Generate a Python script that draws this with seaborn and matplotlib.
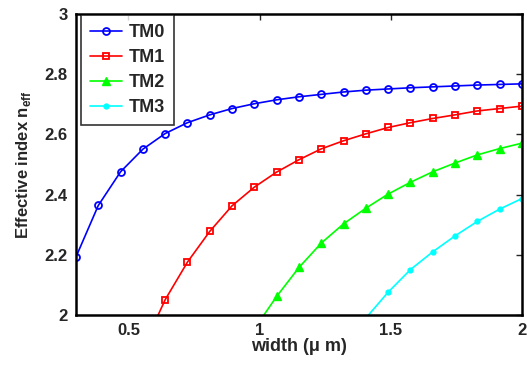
import numpy as np
import pandas as pd
import matplotlib
matplotlib.use('Agg')
import matplotlib.pyplot as plt
import seaborn as sns

sns.set_style('white')
plt.rcParams['font.family'] = ['Liberation Sans', 'DejaVu Sans']
plt.rcParams['font.weight'] = 'bold'
plt.rcParams['mathtext.fontset'] = 'custom'
plt.rcParams['mathtext.bf'] = 'Liberation Sans:bold'
plt.rcParams['mathtext.rm'] = 'Liberation Sans:bold'

# width sweep (um)
width = [0.3, 0.385, 0.47, 0.555, 0.64, 0.725, 0.81, 0.895, 0.98, 1.065, 1.15,
         1.235, 1.32, 1.405, 1.49, 1.575, 1.66, 1.745, 1.83, 1.915, 2.0]

tm0 = [2.193, 2.364, 2.476, 2.551, 2.603, 2.639, 2.665, 2.686, 2.702, 2.715, 2.725,
       2.733, 2.741, 2.747, 2.751, 2.755, 2.758, 2.761, 2.764, 2.766, 2.768]
tm1 = [1.89, 2.051, 2.176, 2.278, 2.363, 2.425, 2.475, 2.516, 2.552, 2.579, 2.602,
       2.623, 2.639, 2.653, 2.665, 2.678, 2.686, 2.694]
tm2 = [1.954, 2.062, 2.158, 2.239, 2.303, 2.355, 2.402, 2.441, 2.476, 2.505, 2.532,
       2.553, 2.571]
tm3 = [1.99, 2.076, 2.151, 2.210, 2.263, 2.311, 2.352, 2.387]

modes = {'TM0': tm0, 'TM1': tm1, 'TM2': tm2, 'TM3': tm3}
colors = {'TM0': '#0000ff', 'TM1': '#ff0000', 'TM2': '#00ff00', 'TM3': '#00ffff'}
styles = {
    'TM0': dict(marker='o', markersize=5, markerfacecolor='none', markeredgewidth=1.3),
    'TM1': dict(marker='s', markersize=4.5, markerfacecolor='none', markeredgewidth=1.3),
    'TM2': dict(marker='^', markersize=6, markeredgewidth=1.0),
    'TM3': dict(marker='o', markersize=3.5, markeredgewidth=1.0),
}

rows = []
for name, vals in modes.items():
    xs = width[len(width) - len(vals):]
    for x, y in zip(xs, vals):
        rows.append({'width': x, 'neff': y, 'mode': name})
df = pd.DataFrame(rows)

fig = plt.figure(figsize=(5.27, 3.66), dpi=100)
ax = fig.add_axes([0.1442, 0.1393, 0.8463, 0.8224])

for name in modes:
    sub = df[df['mode'] == name]
    sns.lineplot(data=sub, x='width', y='neff', ax=ax, color=colors[name],
                 linewidth=1.2, label=name, markeredgecolor=colors[name],
                 **styles[name])

ax.set_xlim(0.3, 2.0)
ax.set_ylim(2.0, 3.0)
ax.set_xticks([0.5, 1, 1.5, 2])
ax.set_xticklabels(['0.5', '1', '1.5', '2'])
ax.set_yticks([2, 2.2, 2.4, 2.6, 2.8, 3])
ax.set_yticklabels(['2', '2.2', '2.4', '2.6', '2.8', '3'])
ax.tick_params(direction='in', length=4, width=1, labelsize=12,
               top=True, right=True, pad=6)
for lab in ax.get_xticklabels() + ax.get_yticklabels():
    lab.set_fontweight('bold')
for sp in ax.spines.values():
    sp.set_linewidth(1.8)
    sp.set_color('black')

ax.set_xlabel('width (\u03bc m)', fontsize=13, fontweight='bold', labelpad=0)
ax.set_ylabel(r'Effective index n$_{\mathbf{eff}}$', fontsize=12,
              fontweight='bold', labelpad=8)

leg = ax.legend(loc='upper left', bbox_to_anchor=(0.01, 1.0), fontsize=13,
                frameon=True, fancybox=False, borderaxespad=0.05,
                handlelength=1.75, handletextpad=0.35, labelspacing=0.45,
                borderpad=0.5)
leg.get_frame().set_edgecolor('black')
leg.get_frame().set_linewidth(1.2)
for t in leg.get_texts():
    t.set_fontweight('bold')

fig.savefig('out.png', dpi=100)
